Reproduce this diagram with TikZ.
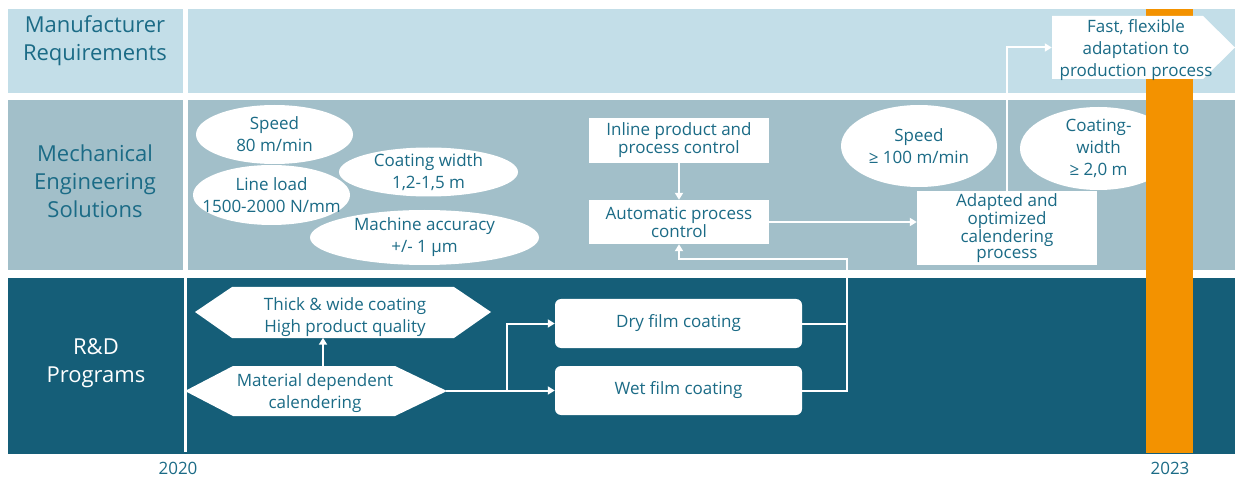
\documentclass[tikz,border=0pt]{standalone}
\usepackage{fontspec}
\setmainfont{Open Sans}
\usetikzlibrary{arrows.meta,calc,shapes.geometric}
\definecolor{toprow}{HTML}{C3DEE8}
\definecolor{midrow}{HTML}{A2BFC9}
\definecolor{botrow}{HTML}{155E78}
\definecolor{ink}{HTML}{1B6B86}
\definecolor{deadline}{HTML}{F39200}
\tikzset{
  lbl/.style={text=ink, align=center, font=\fontsize{17}{22}\selectfont},
  oval/.style={lbl, ellipse, fill=white, inner xsep=-30pt, inner ysep=-10pt},
  whitebox/.style={lbl, fill=white, inner sep=0pt, font=\fontsize{17}{15.5}\selectfont},
  roundbox/.style={lbl, fill=white, inner sep=0pt, rounded corners=6pt},
  frame/.style={lbl, inner sep=0pt},
  rowlabel/.style={align=center, text=ink, font=\fontsize{22}{28}\selectfont},
  yearlabel/.style={text=ink, font=\fontsize{17}{20}\selectfont},
  conn/.style={white, line width=2pt},
  arr/.style={conn, -{Triangle[width=8pt,length=7pt]}},
}
\begin{document}
\begin{tikzpicture}[x=1pt, y=-1pt]
\useasboundingbox (0,0) rectangle (1235,481);
% lanes
\fill[toprow] (8,9) rectangle (183,93);
\fill[toprow] (188,9) rectangle (1235,93);
\fill[midrow] (8,100) rectangle (183,270);
\fill[midrow] (188,100) rectangle (1235,270);
\fill[botrow] (8,278) rectangle (1235,454);
\fill[white] (183.5,278) rectangle (186.5,452);
% lane titles
\node[rowlabel] (lane1) at (95,41) {Manufacturer\\Requirements};
\node[rowlabel] (lane2) at (95,181) {Mechanical\\Engineering\\Solutions};
\node[rowlabel, text=white] (lane3) at (96,363) {R\&D\\Programs};
% machine parameters
\node[oval, minimum width=157pt, minimum height=59pt] (speed1) at (274.5,134.5) {Speed\\80 m/min};
\node[oval, minimum width=157pt, minimum height=60pt] (load) at (271.5,195) {Line load\\1500-2000 N/mm};
\node[oval, minimum width=179pt, minimum height=49pt] (width1) at (428.5,172) {Coating width\\1,2-1,5 m};
\node[oval, minimum width=229pt, minimum height=55pt] (acc) at (424.5,237.5) {Machine accuracy\\+/- 1 µm};
\node[oval, minimum width=156pt, minimum height=82pt] (speed2) at (919,146) {Speed\\≥ 100 m/min};
\node[oval, minimum width=157pt, minimum height=83pt] (width2) at (1098.5,148.5) {Coating-\\width\\≥ 2,0 m};
% target year bar
\fill[deadline] (1146,9) rectangle (1193,453);
% process boxes
\node[whitebox, minimum width=180pt, minimum height=45pt] (inline) at (679,140.5) {Inline product and\\process control};
\node[whitebox, minimum width=180pt, minimum height=44pt] (auto) at (679,222) {Automatic process\\control};
\node[whitebox, minimum width=180pt, minimum height=74pt, font=\fontsize{17}{16}\selectfont] (adapt) at (1007,228) {Adapted and\\optimized\\calendering\\process};
\node[roundbox, minimum width=247pt, minimum height=49pt] (dry) at (678.5,323.5) {Dry film coating};
\node[roundbox, minimum width=247pt, minimum height=49pt] (wet) at (678.5,390.5) {Wet film coating};
% hexagonal goals
\fill[white] (195,312) -- (232,287) -- (454,287) -- (491,312) -- (454,338) -- (232,338) -- cycle;
\node[frame, minimum width=296pt, minimum height=41pt] (thick) at (345,317) {Thick \& wide coating\\High product quality};
\fill[white] (185,391) -- (233,366) -- (395,366) -- (447,391) -- (395,416) -- (233,416) -- cycle;
\node[frame, minimum width=262pt, minimum height=54pt] (mat) at (315,393) {Material dependent\\calendering};
% arrow-shaped requirement
\fill[white] (1052,16) -- (1203,16) -- (1235,47.5) -- (1203,79) -- (1052,79) -- cycle;
\node[frame, minimum width=168pt, minimum height=63pt] (fast) at (1136,50.5) {Fast, flexible\\adaptation to\\production process};
% years
\node[yearlabel] (y2020) at (178,468) {2020};
\node[yearlabel] (y2023) at (1170,468) {2023};
% connectors
\coordinate (upx) at (323,0);
\coordinate (split) at (507,390.5);
\coordinate (ret) at (847,259);
\draw[arr] (mat.north -| upx) -- (thick.south -| upx);
\draw[arr] (mat.east |- wet.west) -- (wet.west);
\draw[arr] (split) |- (dry.west);
\draw[conn] (dry.east) -- (dry.east -| ret);
\draw[arr] (wet.east) -| (ret) -| (auto.south);
\draw[arr] (inline.south) -- (auto.north);
\draw[arr] (auto.east) -- (auto.east -| adapt.west);
\draw[arr] (adapt.north) |- ($(fast.west)+(0,-3)$);
\end{tikzpicture}
\end{document}
